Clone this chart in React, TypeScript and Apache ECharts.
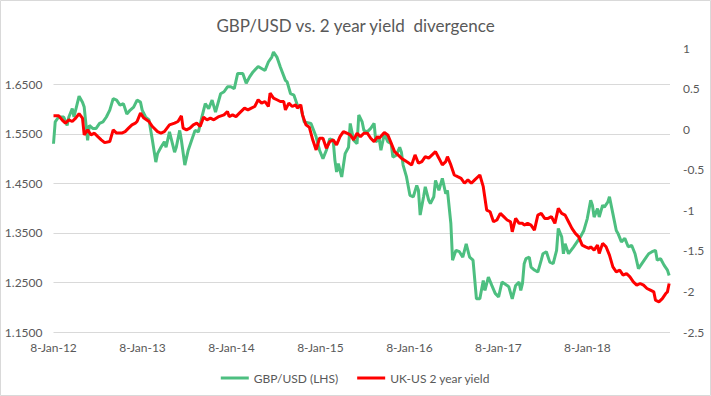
import React, { useEffect, useRef } from "react";
import * as echarts from "echarts";

// Weekly observations, x = weeks since 8-Jan-12
const gbpWeeks = [0,1,3,6,8,9,11,12,15,17,18,20,21,23,25,27,29,31,33,35,37,39,41,43,45,47,49,51,52,54,56,58,60,61,63,65,66,68,71,72,74,75,77,79,81,83,85,87,89,91,93,95,98,100,102,104,106,108,111,113,115,117,120,122,124,126,128,129,131,133,136,137,139,141,143,145,147,151,154,156,158,160,162,164,165,166,167,169,171,173,174,176,178,179,181,182,184,186,188,189,191,192,194,196,198,199,201,203,204,205,207,209,211,213,214,215,217,218,220,221,223,224,226,228,230,231,233,234,236,238,240,242,244,246,248,250,252,253,255,257,259,261,263,266,267,269,271,273,274,275,276,277,279,280,282,284,286,287,289,291,293,295,296,298,299,300,302,305,307,309,311,313,315,316,317,319,320,322,323,325,326,328,330,331,333,335,337,339,341,343,345,347,349,351,353,354,356,358,360,361];
const gbpValues = [1.530,1.574,1.584,1.584,1.567,1.584,1.601,1.584,1.626,1.614,1.604,1.537,1.567,1.561,1.561,1.571,1.574,1.584,1.598,1.621,1.618,1.608,1.611,1.590,1.598,1.604,1.618,1.614,1.598,1.584,1.578,1.537,1.493,1.510,1.523,1.534,1.523,1.554,1.513,1.523,1.557,1.537,1.487,1.517,1.537,1.557,1.554,1.584,1.611,1.601,1.618,1.594,1.631,1.635,1.645,1.645,1.641,1.672,1.672,1.652,1.665,1.675,1.686,1.682,1.678,1.695,1.705,1.715,1.705,1.685,1.658,1.655,1.631,1.628,1.608,1.604,1.574,1.571,1.544,1.517,1.500,1.517,1.540,1.537,1.497,1.473,1.490,1.463,1.510,1.523,1.571,1.537,1.530,1.588,1.574,1.557,1.554,1.561,1.571,1.534,1.540,1.517,1.550,1.534,1.530,1.503,1.507,1.523,1.513,1.487,1.463,1.426,1.423,1.446,1.436,1.386,1.423,1.443,1.416,1.409,1.423,1.456,1.436,1.460,1.429,1.436,1.369,1.295,1.315,1.312,1.301,1.328,1.301,1.295,1.217,1.217,1.254,1.234,1.261,1.244,1.228,1.221,1.251,1.244,1.241,1.217,1.244,1.251,1.234,1.248,1.288,1.298,1.301,1.281,1.275,1.271,1.295,1.308,1.312,1.291,1.288,1.315,1.359,1.342,1.308,1.328,1.308,1.322,1.332,1.342,1.355,1.379,1.416,1.406,1.382,1.399,1.382,1.406,1.402,1.412,1.423,1.389,1.355,1.349,1.332,1.339,1.322,1.325,1.308,1.278,1.288,1.298,1.308,1.312,1.315,1.295,1.298,1.285,1.275,1.264];

const yieldWeeks = [0,3,5,7,9,11,13,15,17,18,20,22,24,26,28,30,33,35,37,40,42,44,46,48,49,51,53,56,58,61,63,65,68,71,73,75,76,78,80,82,84,86,88,90,92,94,97,100,102,103,105,107,109,112,114,116,118,120,122,124,126,127,129,131,133,135,136,138,140,142,143,145,146,148,150,152,154,156,158,160,162,164,166,168,170,172,174,176,178,180,182,184,186,188,190,191,194,196,198,200,202,204,207,210,212,214,216,218,220,222,224,226,228,230,231,233,235,237,239,241,243,245,247,250,252,254,256,258,260,262,264,266,268,269,271,273,275,276,278,280,282,284,286,288,290,292,294,296,298,300,302,304,306,308,310,312,314,315,317,319,320,322,324,326,328,330,332,334,336,338,340,342,344,346,348,350,352,353,355,357,359,360,361];
const yieldValues = [0.164,0.164,0.115,0.074,0.115,0.094,0.136,0.189,0.136,-0.071,-0.009,-0.071,-0.050,-0.092,-0.132,-0.166,-0.153,-0.009,-0.049,-0.049,-0.030,0.012,0.053,0.074,0.094,0.197,0.136,0.094,0.032,-0.030,-0.049,-0.030,0.053,0.074,0.094,0.164,0.012,-0.009,0.012,0.053,0.074,0.032,0.148,0.115,0.136,0.115,0.155,0.176,0.217,0.155,0.176,0.155,0.197,0.259,0.238,0.259,0.279,0.362,0.320,0.341,0.279,0.444,0.382,0.362,0.341,0.341,0.238,0.320,0.279,0.300,0.259,0.300,0.176,0.053,0.024,-0.132,-0.256,-0.112,-0.112,-0.235,-0.153,-0.132,-0.194,-0.092,-0.030,-0.050,-0.071,-0.132,-0.050,-0.092,-0.050,-0.050,-0.112,-0.153,-0.092,-0.112,-0.042,-0.071,-0.173,-0.277,-0.318,-0.358,-0.400,-0.441,-0.318,-0.420,-0.400,-0.339,-0.358,-0.318,-0.277,-0.358,-0.441,-0.400,-0.339,-0.441,-0.565,-0.586,-0.606,-0.667,-0.626,-0.667,-0.626,-0.565,-0.709,-0.997,-1.018,-1.141,-1.120,-1.038,-1.079,-1.120,-1.141,-1.265,-1.100,-1.161,-1.161,-1.182,-1.161,-1.182,-1.244,-1.059,-1.038,-1.100,-1.100,-1.079,-1.161,-0.976,-1.038,-1.059,-1.141,-1.223,-1.285,-1.327,-1.429,-1.450,-1.470,-1.450,-1.491,-1.429,-1.532,-1.408,-1.450,-1.553,-1.697,-1.759,-1.738,-1.800,-1.779,-1.821,-1.882,-1.923,-1.902,-1.923,-1.964,-1.985,-2.006,-2.108,-2.129,-2.088,-2.026,-2.006,-1.902];

const xTickLabels = ["8-Jan-12", "8-Jan-13", "8-Jan-14", "8-Jan-15", "8-Jan-16", "8-Jan-17", "8-Jan-18"];
const leftGridValues = [1.15, 1.25, 1.35, 1.45, 1.55, 1.65];
const seriesNames = ["GBP/USD (LHS)", "UK-US 2 year yield"];
const titleText = "GBP/USD vs. 2 year yield  divergence";

const WEEKS_PER_YEAR = 52.1786;
const FONT = "Lato";
const TEXT_COLOR = "#595959";

export default function App() {
  const ref = useRef<HTMLDivElement>(null);
  useEffect(() => {
    if (!ref.current) return;
    const chart = echarts.init(ref.current, undefined, { renderer: "svg" });
    const gbpData = gbpWeeks.map((w, i) => [w, gbpValues[i]]);
    const yieldData = yieldWeeks.map((w, i) => [w, yieldValues[i]]);
    chart.setOption({
      animation: false,
      backgroundColor: "#ffffff",
      textStyle: { fontFamily: FONT },
      title: {
        text: titleText,
        left: "center",
        top: 12,
        textStyle: { fontFamily: FONT, fontSize: 17, fontWeight: "normal", color: TEXT_COLOR },
      },
      graphic: [
        {
          type: "rect",
          shape: { x: 0.5, y: 0.5, width: 710, height: 395 },
          style: { fill: "none", stroke: "#D9D9D9", lineWidth: 1 },
          silent: true,
        },
      ],
      legend: {
        top: 367,
        left: "center",
        icon: "rect",
        itemWidth: 28,
        itemHeight: 3,
        itemGap: 19,
        textStyle: { fontFamily: FONT, fontSize: 12, color: TEXT_COLOR },
        data: seriesNames,
      },
      grid: { left: 53.5, right: 41, top: 48, height: 284, containLabel: false },
      xAxis: {
        type: "value",
        min: 0,
        max: 361.5,
        interval: WEEKS_PER_YEAR,
        axisLine: { show: false },
        axisTick: { show: false },
        splitLine: { show: false },
        axisLabel: {
          margin: 9,
          color: TEXT_COLOR,
          fontSize: 12,
          fontFamily: FONT,
          showMaxLabel: false,
          formatter: (v: number) => {
            const k = v / WEEKS_PER_YEAR;
            const r = Math.round(k);
            return Math.abs(k - r) < 0.01 && xTickLabels[r] ? xTickLabels[r] : "";
          },
        },
      },
      yAxis: [
        {
          type: "value",
          position: "left",
          min: 1.15,
          max: 1.7233,
          interval: 0.1,
          axisLine: { show: false },
          axisTick: { show: false },
          splitLine: { show: false },
          axisLabel: {
            margin: 11,
            color: TEXT_COLOR,
            fontSize: 12,
            fontFamily: FONT,
            showMaxLabel: false,
            formatter: (v: number) => v.toFixed(4),
          },
        },
        {
          type: "value",
          position: "right",
          min: -2.5,
          max: 1,
          interval: 0.5,
          axisLine: { show: false },
          axisTick: { show: false },
          splitLine: { show: false },
          axisLabel: { margin: 13, color: TEXT_COLOR, fontSize: 12, fontFamily: FONT },
        },
      ],
      series: [
        {
          name: seriesNames[0],
          type: "line",
          yAxisIndex: 0,
          data: gbpData,
          showSymbol: false,
          symbol: "none",
          lineStyle: { color: "#4DBF80", width: 3 },
          itemStyle: { color: "#4DBF80" },
          z: 2,
          markLine: {
            silent: true,
            symbol: "none",
            z: 1,
            label: { show: false },
            lineStyle: { color: "#D9D9D9", width: 1, type: "solid" },
            data: leftGridValues.map((v) => ({ yAxis: v })),
          },
        },
        {
          name: seriesNames[1],
          type: "line",
          yAxisIndex: 1,
          data: yieldData,
          showSymbol: false,
          symbol: "none",
          lineStyle: { color: "#FF0000", width: 3 },
          itemStyle: { color: "#FF0000" },
          z: 3,
        },
      ],
    });
    return () => chart.dispose();
  }, []);
  return (
    <div
      ref={ref}
      style={{ position: "absolute", left: 0, top: 0, width: 711, height: 396 }}
    />
  );
}
